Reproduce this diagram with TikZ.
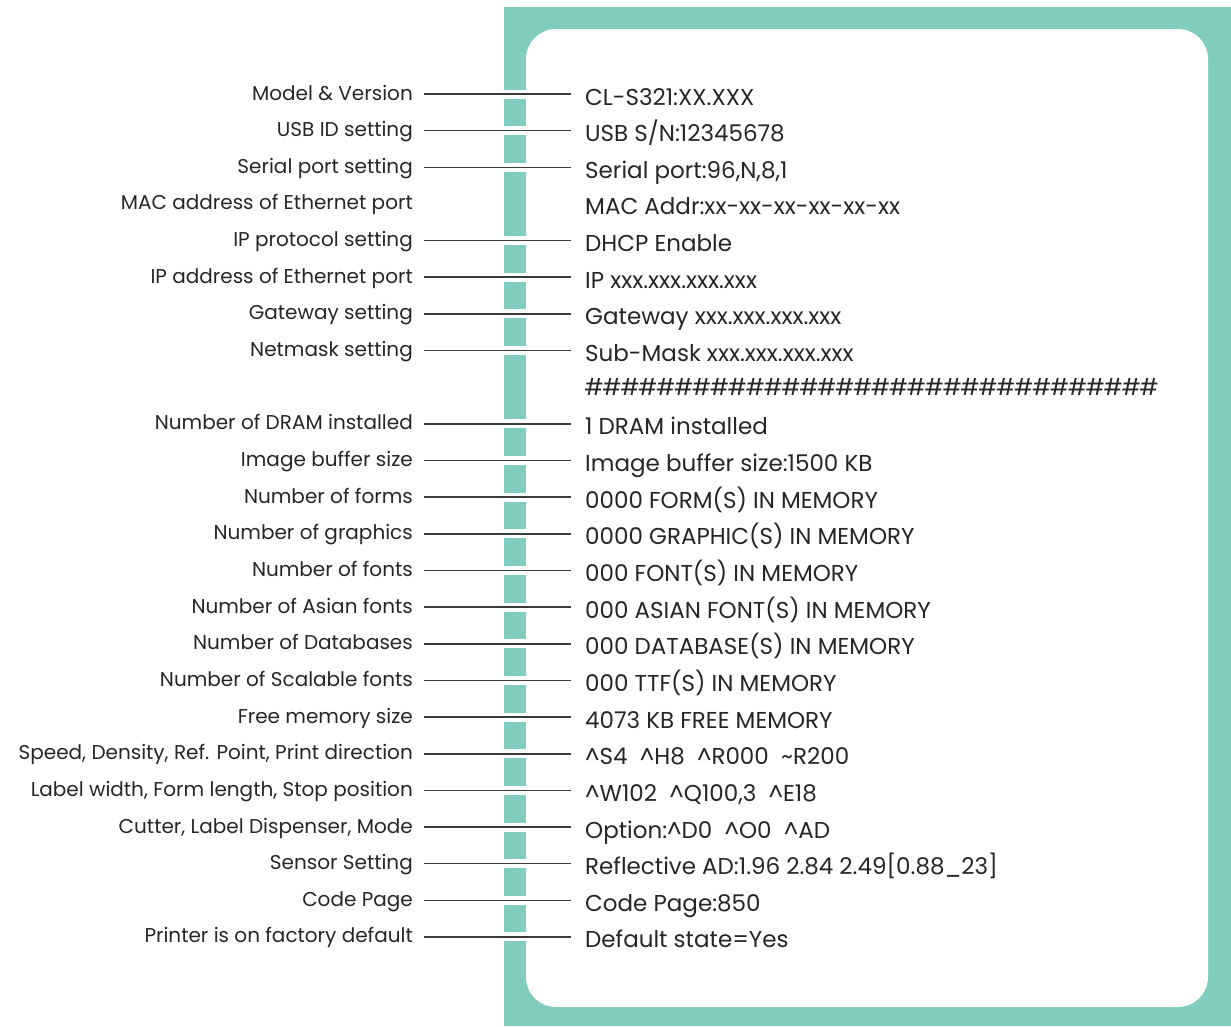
\documentclass[tikz,border=0pt]{standalone}
\usepackage{fontspec}
\setmainfont{Poppins}
\definecolor{teal1}{RGB}{128,204,190}
\definecolor{txt}{RGB}{38,38,38}
\definecolor{ln}{RGB}{60,60,60}
\tikzset{
  lab/.style={anchor=base east, inner sep=0pt, text=txt, font=\fontsize{20}{24}\selectfont},
  val/.style={anchor=base west, inner sep=0pt, text=txt, font=\fontsize{23}{27}\selectfont},
  halo/.style={white, line width=9pt},
  conn/.style={ln, line width=1.6pt},
}
\begin{document}
\begin{tikzpicture}[x=1pt,y=-1pt]
\useasboundingbox (0,0) rectangle (1231,1026);
\fill[teal1] (504,7) rectangle (1231,1026);
\fill[white, rounded corners=30pt] (526,29) rectangle (1208,1007);
\foreach \i/\l/\v/\c in {
 0/{Model \& Version}/{CL-S321:XX.XXX}/1,
 1/{USB ID setting}/{USB S/N:12345678}/1,
 2/{Serial port setting}/{Serial port:96,N,8,1}/1,
 3/{MAC address of Ethernet port}/{MAC Addr:xx-xx-xx-xx-xx-xx}/0,
 4/{IP protocol setting}/{DHCP Enable}/1,
 5/{IP address of Ethernet port}/{IP xxx.xxx.xxx.xxx}/1,
 6/{Gateway setting}/{Gateway xxx.xxx.xxx.xxx}/1,
 7/{Netmask setting}/{Sub-Mask xxx.xxx.xxx.xxx}/1,
 9/{Number of DRAM installed}/{1 DRAM installed}/1,
 10/{Image buffer size}/{Image buffer size:1500 KB}/1,
 11/{Number of forms}/{0000 FORM(S) IN MEMORY}/1,
 12/{Number of graphics}/{0000 GRAPHIC(S) IN MEMORY}/1,
 13/{Number of fonts}/{000 FONT(S) IN MEMORY}/1,
 14/{Number of Asian fonts}/{000 ASIAN FONT(S) IN MEMORY}/1,
 15/{Number of Databases}/{000 DATABASE(S) IN MEMORY}/1,
 16/{Number of Scalable fonts}/{000 TTF(S) IN MEMORY}/1,
 17/{Free memory size}/{4073 KB FREE MEMORY}/1,
 18/{Speed, Density, Ref. Point, Print direction}/{\^{}S4\ \ \^{}H8\ \ \^{}R000\ \ \~{}R200}/1,
 19/{Label width, Form length, Stop position}/{\^{}W102\ \ \^{}Q100,3\ \ \^{}E18}/1,
 20/{Cutter, Label Dispenser, Mode}/{Option:\^{}D0\ \ \^{}O0\ \ \^{}AD}/1,
 21/{Sensor Setting}/{Reflective AD:1.96 2.84 2.49[0.88\_23]}/1,
 22/{Code Page}/{Code Page:850}/1,
 23/{Printer is on factory default}/{Default state=Yes}/1}{
  \pgfmathsetmacro{\yy}{94+36.65*\i}
  \node[lab] (l\i) at (413,\yy+6) {\l};
  \node[val] (v\i) at (585,\yy+11) {\v};
  \ifnum\c=1
    \coordinate (a\i) at (424,\yy);
    \coordinate (b\i) at (571,\yy);
    \draw[halo] (a\i) -- (b\i);
    \draw[conn] (a\i) -- (b\i);
  \fi
}
\node[val] (hash) at (585,395) {\foreach \k in {1,...,32}{\makebox[17.9pt][c]{\#}}};
\end{tikzpicture}
\end{document}
